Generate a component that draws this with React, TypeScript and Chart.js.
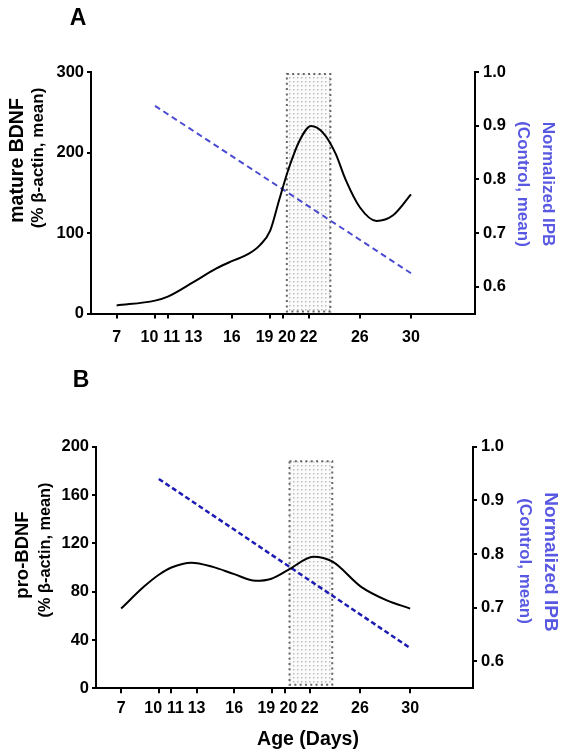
import React, { useEffect, useRef } from "react";
import { Chart, registerables } from "chart.js";
Chart.register(...registerables);

// ---------- data ----------
const xTickDays = [7, 10, 11, 13, 16, 19, 20, 22, 26, 30];

const matureDays = [7, 10, 11, 13, 14.8, 16, 17.3, 18.2, 19, 19.7, 20.4, 21.3, 22.2, 23.1, 24.1, 24.9, 26, 27.3, 28.6, 30];
const matureValues = [10, 16, 21, 39, 56, 65, 74, 85, 103, 141, 178, 215, 233, 225, 199, 166, 132, 115, 122, 148];

const proDays = [7, 8.8, 10, 11, 12.6, 14.3, 16, 17.7, 18.9, 20.3, 22.3, 23.8, 26.1, 28.1, 30];
const proValues = [66, 84, 94, 100, 104, 100.5, 94.5, 89, 90.5, 98, 109, 105, 84, 73, 66];

const ipbDaysA = [10, 30];
const ipbValuesA = [0.937, 0.625];
const ipbDaysB = [10, 30];
const ipbValuesB = [0.94, 0.625];

const leftTicksA = [0, 100, 200, 300];
const leftTicksB = [0, 40, 80, 120, 160, 200];
const rightTicks = [0.6, 0.7, 0.8, 0.9, 1.0];

const shadeDaysA = [20.3, 23.7];
const shadeValuesA = [2.5, 297.5];
const shadeDaysB = [20.4, 23.8];
const shadeValuesB = [3, 188];

// ---------- style ----------
const FONT = '"Liberation Sans", Arial, Helvetica, sans-serif';
const BLUE_TITLE = "#5858e2";

// label text with spacing so crowded labels separate like the original
const xLabelText: Record<number, string> = {
  10: "10\u2002\u2009",
  11: "\u200211",
  19: "19\u2002\u2009",
  20: "\u200220",
};

type TextItem = { text: string; x: number; y: number; font: string; color: string; rotate?: number };

function makeDecor(shadeDays: number[], shadeValues: number[], texts: TextItem[]) {
  return {
    id: "decor",
    beforeDatasetsDraw(chart: any) {
      const { ctx, scales } = chart;
      const x0 = scales.x.getPixelForValue(shadeDays[0]);
      const x1 = scales.x.getPixelForValue(shadeDays[1]);
      const yTop = scales.y.getPixelForValue(shadeValues[1]);
      const yBot = scales.y.getPixelForValue(shadeValues[0]);
      const tile = document.createElement("canvas");
      tile.width = 4;
      tile.height = 4;
      const tctx = tile.getContext("2d")!;
      tctx.fillStyle = "#fbfbfb";
      tctx.fillRect(0, 0, 4, 4);
      tctx.fillStyle = "#bdbdbd";
      tctx.fillRect(1, 1, 1.5, 1.5);
      ctx.save();
      ctx.fillStyle = ctx.createPattern(tile, "repeat");
      ctx.fillRect(x0, yTop, x1 - x0, yBot - yTop);
      ctx.strokeStyle = "#666";
      ctx.lineWidth = 2;
      ctx.setLineDash([2, 3.3]);
      ctx.strokeRect(x0, yTop, x1 - x0, yBot - yTop);
      ctx.restore();
    },
    afterDraw(chart: any) {
      const { ctx } = chart;
      for (const t of texts) {
        ctx.save();
        ctx.font = t.font;
        ctx.fillStyle = t.color;
        ctx.textAlign = "center";
        ctx.textBaseline = "alphabetic";
        ctx.translate(t.x, t.y);
        if (t.rotate) ctx.rotate((t.rotate * Math.PI) / 180);
        ctx.fillText(t.text, 0, 0);
        ctx.restore();
      }
    },
  };
}

type PanelProps = {
  top: number;
  height: number;
  padTop: number;
  leftWidth: number;
  rightWidth: number;
  xHeight: number;
  xPadding: number;
  curveDays: number[];
  curveValues: number[];
  ipbDays: number[];
  ipbValues: number[];
  ipbColor: string;
  ipbWidth: number;
  ipbDash: number[];
  leftTicks: number[];
  shadeDays: number[];
  shadeValues: number[];
  texts: TextItem[];
};

function Panel(p: PanelProps) {
  const ref = useRef<HTMLCanvasElement | null>(null);
  useEffect(() => {
    if (!ref.current) return;
    const tickFontY = { family: FONT, size: 16.5, weight: "bold" as const };
    const tickFontX = { family: FONT, size: 16, weight: "bold" as const };
    const axisCommon = {
      grid: { drawOnChartArea: false, drawTicks: true, tickLength: 4, color: "#000", lineWidth: 2 },
      border: { display: true, color: "#000", width: 2 },
    };
    const chart = new Chart(ref.current, {
      type: "line",
      data: {
        datasets: [
          {
            label: "BDNF",
            data: p.curveDays.map((d, i) => ({ x: d, y: p.curveValues[i] })),
            yAxisID: "y",
            borderColor: "#000",
            borderWidth: 2,
            pointRadius: 0,
            cubicInterpolationMode: "monotone",
            fill: false,
          },
          {
            label: "IPB",
            data: p.ipbDays.map((d, i) => ({ x: d, y: p.ipbValues[i] })),
            yAxisID: "y1",
            borderColor: p.ipbColor,
            borderWidth: p.ipbWidth,
            borderDash: p.ipbDash,
            pointRadius: 0,
            fill: false,
          },
        ],
      },
      options: {
        animation: false,
        responsive: false,
        devicePixelRatio: 1,
        layout: { padding: { top: p.padTop, left: 0, right: 0, bottom: 0 } },
        plugins: { legend: { display: false }, tooltip: { enabled: false }, title: { display: false } },
        scales: {
          x: {
            type: "linear",
            min: 5,
            max: 35,
            afterBuildTicks: (s: any) => {
              s.ticks = xTickDays.map((v) => ({ value: v }));
            },
            afterFit: (s: any) => {
              s.height = p.xHeight;
            },
            grid: { drawOnChartArea: false, drawTicks: true, tickLength: 5, color: "#000", lineWidth: 2 },
            border: { display: true, color: "#000", width: 2 },
            ticks: {
              autoSkip: false,
              maxRotation: 0,
              minRotation: 0,
              padding: p.xPadding,
              color: "#000",
              font: tickFontX,
              callback: (v: any) => xLabelText[Number(v)] ?? String(v),
            },
          },
          y: {
            type: "linear",
            position: "left",
            min: p.leftTicks[0],
            max: p.leftTicks[p.leftTicks.length - 1],
            afterBuildTicks: (s: any) => {
              s.ticks = p.leftTicks.map((v) => ({ value: v }));
            },
            afterFit: (s: any) => {
              s.width = p.leftWidth;
            },
            ...axisCommon,
            ticks: { padding: 3, color: "#000", font: tickFontY, callback: (v: any) => String(v) },
          },
          y1: {
            type: "linear",
            position: "right",
            min: 0.55,
            max: 1.0,
            afterBuildTicks: (s: any) => {
              s.ticks = rightTicks.map((v) => ({ value: v }));
            },
            afterFit: (s: any) => {
              s.width = p.rightWidth;
            },
            ...axisCommon,
            ticks: { padding: 4, color: "#000", font: tickFontY, callback: (v: any) => Number(v).toFixed(1) },
          },
        },
      } as any,
      plugins: [makeDecor(p.shadeDays, p.shadeValues, p.texts)],
    });
    return () => chart.destroy();
  }, []);
  return (
    <canvas
      ref={ref}
      width={565}
      height={p.height}
      style={{ position: "absolute", left: 0, top: p.top, width: 565, height: p.height, display: "block" }}
    />
  );
}

const bold = (size: number) => `bold ${size}px ${FONT}`;

export default function App() {
  const textsA: TextItem[] = [
    { text: "A", x: 78, y: 25, font: bold(23), color: "#000" },
    { text: "mature BDNF", x: 22.5, y: 160.5, font: bold(19.5), color: "#000", rotate: -90 },
    { text: "(% \u03b2-actin, mean)", x: 43, y: 158, font: bold(17), color: "#000", rotate: -90 },
    { text: "(Control, mean)", x: 518, y: 184, font: bold(17), color: BLUE_TITLE, rotate: 90 },
    { text: "Normalized IPB", x: 543, y: 184, font: bold(17), color: BLUE_TITLE, rotate: 90 },
  ];
  const textsB: TextItem[] = [
    { text: "B", x: 81, y: 27, font: bold(23), color: "#000" },
    { text: "pro-BDNF", x: 27.5, y: 195, font: bold(18.5), color: "#000", rotate: -90 },
    { text: "(% \u03b2-actin, mean)", x: 50, y: 190, font: bold(16.3), color: "#000", rotate: -90 },
    { text: "(Control, mean)", x: 519.5, y: 201, font: bold(17), color: BLUE_TITLE, rotate: 90 },
    { text: "Normalized IPB", x: 545, y: 202, font: bold(19), color: BLUE_TITLE, rotate: 90 },
    { text: "Age (Days)", x: 308, y: 385, font: bold(19.5), color: "#000" },
  ];
  return (
    <div style={{ position: "absolute", left: 0, top: 0, width: 565, height: 755, background: "#fff" }}>
      <Panel
        top={0}
        height={360}
        padTop={72}
        leftWidth={91}
        rightWidth={90}
        xHeight={46.5}
        xPadding={9}
        curveDays={matureDays}
        curveValues={matureValues}
        ipbDays={ipbDaysA}
        ipbValues={ipbValuesA}
        ipbColor="#4b4bd2"
        ipbWidth={2}
        ipbDash={[6, 4]}
        leftTicks={leftTicksA}
        shadeDays={shadeDaysA}
        shadeValues={shadeValuesA}
        texts={textsA}
      />
      <Panel
        top={360}
        height={395}
        padTop={86.7}
        leftWidth={96}
        rightWidth={92}
        xHeight={66.7}
        xPadding={6}
        curveDays={proDays}
        curveValues={proValues}
        ipbDays={ipbDaysB}
        ipbValues={ipbValuesB}
        ipbColor="#1c1cb4"
        ipbWidth={2.5}
        ipbDash={[5, 3]}
        leftTicks={leftTicksB}
        shadeDays={shadeDaysB}
        shadeValues={shadeValuesB}
        texts={textsB}
      />
    </div>
  );
}
